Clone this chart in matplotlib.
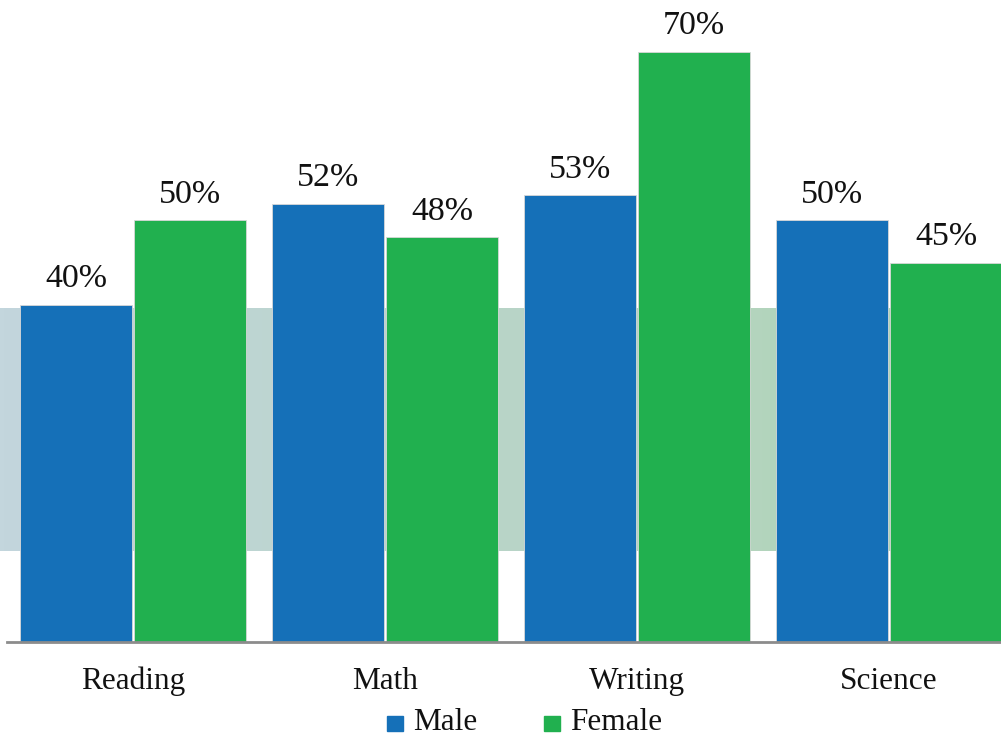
import matplotlib
matplotlib.use('Agg')
import matplotlib.pyplot as plt
import numpy as np
from matplotlib.patches import Rectangle
from matplotlib.colors import LinearSegmentedColormap

# data
subjects = ['Reading', 'Math', 'Writing', 'Science']
male = [40, 52, 53, 50]
female = [50, 48, 70, 45]
series = ['Male', 'Female']

c_male = '#1570b8'
c_female = '#21b04f'
serif = ['Liberation Serif', 'DejaVu Serif']
W, H = 1001, 736

fig = plt.figure(figsize=(W / 100, H / 100), dpi=100)
# axes spans from baseline (y=642px) to top of figure
ax = fig.add_axes([0, 94 / H, 1, 642 / H])
ax.set_xlim(-133 / 252, (W - 133) / 252)
ax.set_ylim(0, 642 / 8.43)
ax.axis('off')

# decorative gradient band behind the bars
grad = np.linspace(0, 1, 256).reshape(1, -1)
cmap = LinearSegmentedColormap.from_list('band', ['#c3d6dd', '#aed4b3'])
ax.imshow(grad, cmap=cmap, aspect='auto', zorder=0,
          extent=[-133 / 252, (W - 133) / 252, 10.8, 39.6])

x = np.arange(len(subjects))
w = 112 / 252
gap = 2 / 252
b1 = ax.bar(x - w / 2 - gap / 2, male, width=w, color=c_male, zorder=2,
            edgecolor='#d8d8d8', linewidth=0.6)
b2 = ax.bar(x + w / 2 + gap / 2, female, width=w, color=c_female, zorder=2,
            edgecolor='#d8d8d8', linewidth=0.6)

for bars, vals in ((b1, male), (b2, female)):
    for r, v in zip(bars, vals):
        ax.text(r.get_x() + r.get_width() / 2, v + 2.1, '%d%%' % v,
                ha='center', va='baseline', fontsize=24.5, family=serif,
                color='#111111', zorder=3)

# baseline
ax.plot([(7 - 133) / 252, (W - 133) / 252], [0, 0], color='#8c8c8c',
        lw=2, zorder=3, clip_on=False)

for i, s in enumerate(subjects):
    fig.text((133 + 252 * i) / W, 1 - 689 / H, s, ha='center', va='baseline',
             fontsize=22.5, family=serif, color='#111111')

# legend drawn by hand: square + label
for lab, col, sx, tx in ((series[0], c_male, 387, 413), (series[1], c_female, 544, 570)):
    fig.patches.append(Rectangle((sx / W, 1 - 731 / H), 16 / W, 15 / H,
                                 transform=fig.transFigure, color=col))
    fig.text(tx / W, 1 - 730 / H, lab, ha='left', va='baseline',
             fontsize=22.5, family=serif, color='#111111')

fig.savefig('out.png', dpi=100)
